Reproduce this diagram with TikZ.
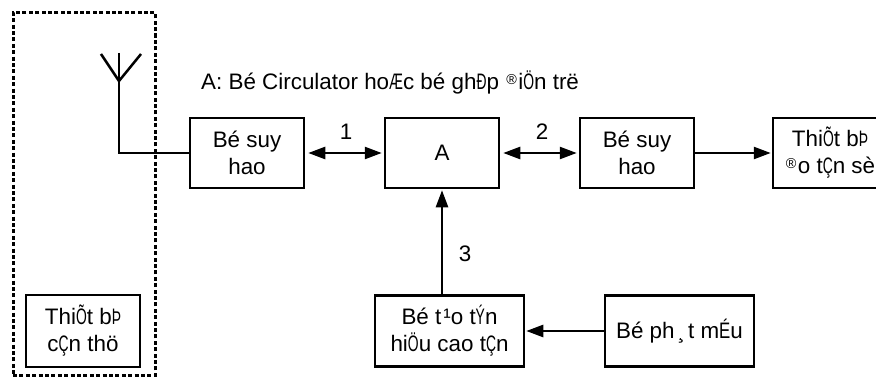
\documentclass[tikz,border=0pt]{standalone}
\usepackage{fontspec}
\usepackage{graphicx}
\setmainfont{Liberation Sans}
\usetikzlibrary{arrows.meta,positioning}
\newcommand{\nar}[1]{\scalebox{0.62}[1]{#1}}
\newcommand{\midw}[1]{\scalebox{0.75}[1]{#1}}
\newcommand{\regm}{\hspace{1pt}\raisebox{5pt}{\scalebox{0.64}{®}}\hspace{1.5pt}}
\tikzset{
  blockbox/.style={draw=black,line width=2.5pt,minimum width=114pt,minimum height=70pt,inner sep=0pt,align=center,font=\fontsize{22.4}{27}\selectfont,text=black},
  lbl/.style={inner sep=0pt,font=\fontsize{22.4}{26}\selectfont,text=black},
  wire/.style={line width=2.5pt,draw=black},
  arr/.style={wire,-{Triangle[length=17pt,width=12pt]},shorten >=1pt},
  biarr/.style={wire,{Triangle[length=17pt,width=12pt]}-{Triangle[length=17pt,width=12pt]},shorten >=2pt,shorten <=3pt},
  frame/.style={draw=black,line width=3pt,dash pattern=on 4pt off 2.4pt,inner sep=0pt}
}
\begin{document}
\begin{tikzpicture}[x=1pt,y=-1pt]
\useasboundingbox (0,0) rectangle (876,377);
\clip (0,0) rectangle (876,377);
\node[frame,minimum width=142pt,minimum height=363pt] (zone) at (84,194) {};
\node[blockbox] (att1) at (247,153) {Bé suy\\hao};
\node[blockbox] (a) at (442,153) {A};
\node[blockbox] (att2) at (637,153) {Bé suy\\hao};
\node[blockbox] (meter) at (830,153) {Thi\nar{Õ}t b\nar{Þ}\\\regm o t\nar{Ç}n sè};
\node[blockbox,minimum height=72pt] (dut) at (83,331) {Thi\nar{Õ}t b\nar{Þ}\\c\nar{Ç}n thö};
\node[blockbox,minimum width=149pt,minimum height=71pt] (gen) at (449.5,331) {Bé t\hspace{2pt}¹o t\nar{Ý}n\\hi\nar{Ö}u cao t\nar{Ç}n};
\node[blockbox,minimum width=149pt,minimum height=71pt] (src) at (679.5,331) {Bé ph\hspace{3pt}¸\hspace{3pt}t m\midw{É}u};
\node[lbl,anchor=base west] (title) at (201,90) {A: Bé Circulator ho\nar{Æ}c bé gh\nar{Ð}p \regm i\nar{Ö}n trë};
\node[lbl] (n1) at (346,132) {1};
\node[lbl] (n2) at (542,132) {2};
\node[lbl] (n3) at (465,254) {3};
\coordinate (feed) at (119,81);
\coordinate (corner) at (119,153);
\coordinate (tipm) at (119,53);
\coordinate (tipl) at (101,54);
\coordinate (tipr) at (141,54);
\draw[wire] (tipl) -- (feed) -- (tipr);
\draw[wire] (tipm) -- (feed) -- (corner) -- (att1.west);
\draw[biarr] (att1) -- (a);
\draw[biarr] (a) -- (att2);
\draw[arr] (att2) -- (meter);
\draw[arr] (gen.north -| a.south) -- (a.south);
\draw[arr] (src) -- (gen);
\end{tikzpicture}
\end{document}
